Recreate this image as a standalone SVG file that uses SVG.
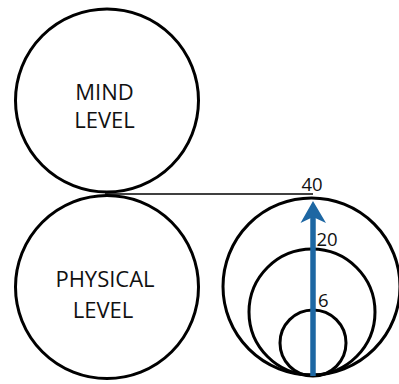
<svg xmlns="http://www.w3.org/2000/svg" width="399" height="384" viewBox="0 0 399 384">
<style>
.c{fill:none;stroke:#000;stroke-width:3}
.t{font-family:"Open Sans","Liberation Sans",sans-serif;font-size:22px;fill:#111;text-anchor:middle}
.n{font-family:"Open Sans","Liberation Sans",sans-serif;font-size:18.5px;fill:#111}
</style>
<rect width="399" height="384" fill="#fff"/>
<g id="mind">
<circle class="c" cx="107" cy="100.5" r="91.5"/>
<text class="t" x="104.5" y="99.5">MIND</text>
<text class="t" x="104.5" y="127.5">LEVEL</text>
</g>
<g id="physical">
<circle class="c" cx="107" cy="287" r="91.5"/>
<text class="t" x="105" y="287">PHYSICAL</text>
<text class="t" x="103" y="318">LEVEL</text>
</g>
<g id="scale">
<circle class="c" cx="311.5" cy="286.5" r="88.5"/>
<circle class="c" cx="312" cy="312" r="63"/>
<circle class="c" cx="313" cy="343" r="33"/>
</g>
<g id="connectors">
<line x1="105" y1="194" x2="313" y2="194" stroke="#000" stroke-width="1.5"/>
<line x1="313" y1="376" x2="313" y2="216" stroke="#1d67a3" stroke-width="5.5"/>
<path d="M313 201 L326 223 L313 217 L300.5 223 Z" fill="#1d67a3"/>
</g>
<text class="n" x="301.5" y="191">40</text>
<text class="n" x="316.5" y="245.5">20</text>
<text class="n" x="318" y="307">6</text>
</svg>
